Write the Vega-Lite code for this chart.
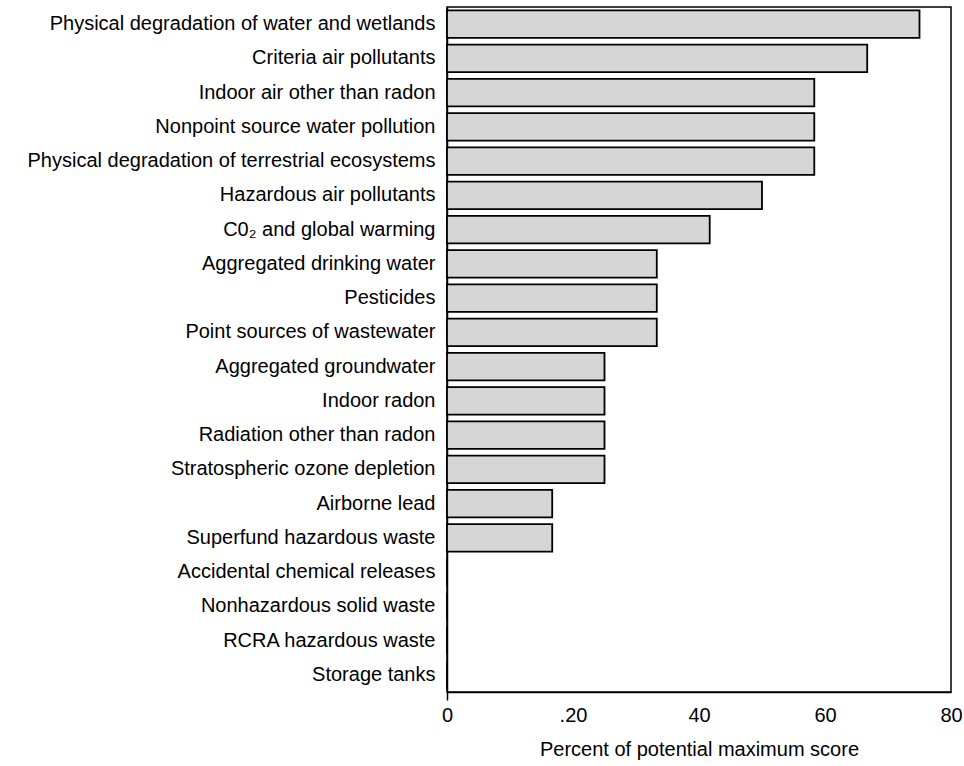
{
  "$schema": "https://vega.github.io/schema/vega-lite/v6.json",
  "width": 504,
  "height": 685,
  "autosize": "none",
  "padding": {"left": 447, "top": 7, "right": 13, "bottom": 74},
  "background": "white",
  "config": {
    "view": {"stroke": "black", "strokeWidth": 1.5},
    "font": "Liberation Sans"
  },
  "data": {
    "values": [
      {"problem": "Physical degradation of water and wetlands", "score": 75},
      {"problem": "Criteria air pollutants", "score": 66.7},
      {"problem": "Indoor air other than radon", "score": 58.3},
      {"problem": "Nonpoint source water pollution", "score": 58.3},
      {"problem": "Physical degradation of terrestrial ecosystems", "score": 58.3},
      {"problem": "Hazardous air pollutants", "score": 50},
      {"problem": "C0₂ and  global  warming", "score": 41.7},
      {"problem": "Aggregated drinking water", "score": 33.3},
      {"problem": "Pesticides", "score": 33.3},
      {"problem": "Point sources of wastewater", "score": 33.3},
      {"problem": "Aggregated groundwater", "score": 25},
      {"problem": "Indoor radon", "score": 25},
      {"problem": "Radiation other than radon", "score": 25},
      {"problem": "Stratospheric ozone depletion", "score": 25},
      {"problem": "Airborne lead", "score": 16.7},
      {"problem": "Superfund hazardous waste", "score": 16.7},
      {"problem": "Accidental chemical releases", "score": 0},
      {"problem": "Nonhazardous solid waste", "score": 0},
      {"problem": "RCRA hazardous waste", "score": 0},
      {"problem": "Storage tanks", "score": 0}
    ]
  },
  "mark": {
    "type": "bar",
    "fill": "#d6d6d6",
    "stroke": "black",
    "strokeWidth": 1.8
  },
  "encoding": {
    "y": {
      "field": "problem",
      "type": "nominal",
      "sort": null,
      "scale": {"paddingInner": 0.2, "paddingOuter": 0.1},
      "axis": {
        "title": null,
        "ticks": false,
        "domainColor": "black",
        "domainWidth": 1.5,
        "labelColor": "black",
        "labelFontSize": 20,
        "labelPadding": 12,
        "labelLimit": 0
      }
    },
    "x": {
      "field": "score",
      "type": "quantitative",
      "scale": {"domain": [0, 80], "nice": false},
      "axis": {
        "title": "Percent of potential maximum score",
        "titleFontSize": 20,
        "titleFontWeight": "normal",
        "titleColor": "black",
        "titlePadding": 14,
        "values": [0, 20, 40, 60, 80],
        "labelExpr": "datum.value == 20 ? '.20' : datum.label",
        "labelFontSize": 20,
        "labelColor": "black",
        "labelFlush": false,
        "labelPadding": 5,
        "tickSize": 8,
        "tickColor": "black",
        "tickWidth": 1.5,
        "tickOpacity": {"condition": {"test": "datum.value == 0", "value": 1}, "value": 0},
        "domainColor": "black",
        "domainWidth": 1.5,
        "grid": false
      }
    }
  }
}
